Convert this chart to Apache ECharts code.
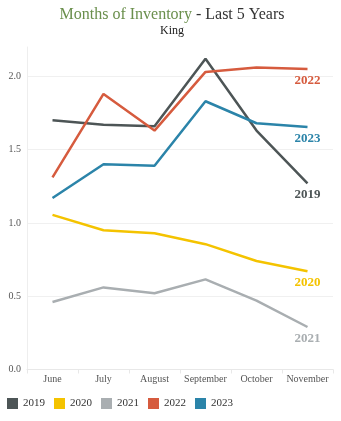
<!DOCTYPE html>
<html>
<head>
<meta charset="utf-8">
<script src="https://cdn.jsdelivr.net/npm/echarts@6/dist/echarts.min.js"></script>
<style>html,body{margin:0;padding:0;background:#fff;}#c{width:341px;height:421px;}</style>
</head>
<body>
<div id="c"></div>
<script>
const months = ['June', 'July', 'August', 'September', 'October', 'November'];
const years = ['2019', '2020', '2021', '2022', '2023'];
const s2019 = [1.70, 1.67, 1.66, 2.12, 1.63, 1.27];
const s2020 = [1.055, 0.95, 0.93, 0.855, 0.74, 0.67];
const s2021 = [0.46, 0.56, 0.52, 0.615, 0.47, 0.29];
const s2022 = [1.31, 1.88, 1.63, 2.03, 2.06, 2.05];
const s2023 = [1.17, 1.40, 1.39, 1.83, 1.68, 1.655];
const yTicks = [0, 0.5, 1.0, 1.5, 2.0];
const seriesValues = [s2019, s2020, s2021, s2022, s2023];
const colors = ['#4d5556', '#f4c300', '#a9aeb1', '#d65b3e', '#2b84a9'];

const serif = '"Liberation Serif", "DejaVu Serif", serif';
const chart = echarts.init(document.getElementById('c'), null, {renderer: 'canvas'});
const series = years.map((y, i) => ({
  name: y,
  type: 'line',
  data: seriesValues[i].map((v, j) => j === months.length - 1 ? {
    value: v,
    label: {
      show: true, position: 'bottom', distance: 5, offset: [10, 0],
      formatter: y, color: colors[i], fontFamily: serif, fontWeight: 'bold', fontSize: 13
    }
  } : v),
  symbol: 'circle',
  symbolSize: 0,
  showSymbol: true,
  lineStyle: {width: 2.5, color: colors[i]},
  itemStyle: {color: colors[i]},
  emphasis: {disabled: true},
  labelLayout: {hideOverlap: false},
  z: 2 + i
}));

chart.setOption({
  animation: false,
  backgroundColor: '#fff',
  color: colors,
  title: {
    text: '{g|Months of Inventory}{d| - Last 5 Years}',
    subtext: 'King',
    left: 167, top: 2, textAlign: 'center',
    itemGap: 2,
    textStyle: {
      fontWeight: 'normal',
      rich: {
        g: {fontFamily: serif, fontSize: 16, color: '#6a8f4c', fontWeight: 'normal'},
        d: {fontFamily: serif, fontSize: 16, color: '#333', fontWeight: 'normal'}
      }
    },
    subtextStyle: {fontFamily: serif, fontSize: 12, color: '#222'}
  },
  legend: {
    data: years,
    left: 2, top: 393,
    itemWidth: 11, itemHeight: 11, itemGap: 9,
    icon: 'rect',
    textStyle: {fontFamily: serif, fontSize: 11, color: '#333'}
  },
  grid: {left: 27, right: 8, top: 47, bottom: 51.5},
  xAxis: {
    type: 'category',
    data: months,
    boundaryGap: true,
    axisLine: {show: true, lineStyle: {color: '#e8e8e8'}},
    axisTick: {show: true, interval: 0, length: 4, lineStyle: {color: '#e8e8e8'}},
    axisLabel: {interval: 0, fontFamily: serif, fontSize: 10, color: '#555', margin: 5}
  },
  yAxis: {
    type: 'value',
    min: 0, max: 2.2, interval: 0.5,
    axisLine: {show: true, lineStyle: {color: '#eeeeee'}},
    axisTick: {show: false},
    axisLabel: {
      fontFamily: serif, fontSize: 10, color: '#555', margin: 6,
      formatter: v => yTicks.some(t => Math.abs(t - v) < 1e-9) ? v.toFixed(1) : ''
    },
    splitLine: {show: true, lineStyle: {color: ['#f0f0f0', '#f0f0f0', '#f0f0f0', '#f0f0f0', '#f0f0f0', 'rgba(0,0,0,0)']}}
  },
  series: series
});
</script>
</body>
</html>
